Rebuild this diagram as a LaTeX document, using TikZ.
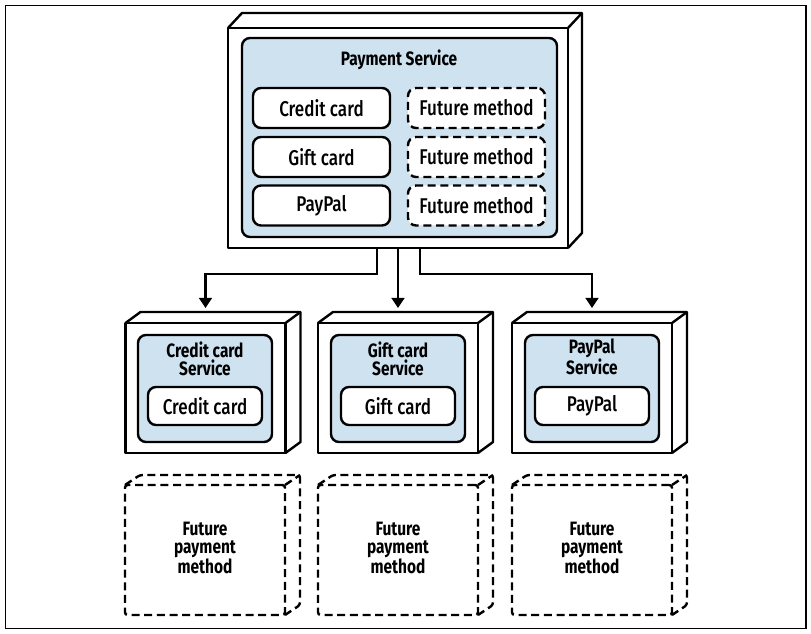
\documentclass[tikz,border=0pt]{standalone}
\usepackage{fontspec}
\setmainfont{Fira Sans}[FakeStretch=0.8]
\newfontfamily\mediumfont{Fira Sans Medium}[FakeStretch=0.8]
\usetikzlibrary{arrows.meta}
\definecolor{panelblue}{RGB}{206,226,240}
\tikzset{
  cube/.style={draw, line width=1.8pt, fill=white, outer sep=0pt, inner sep=0pt, line join=round},
  sides/.style={line width=1.8pt, line join=round},
  dashsides/.style={sides, dash pattern=on 6pt off 3.5pt, rounded corners=2pt},
  futurecube/.style={cube, dash pattern=on 6pt off 3.5pt, rounded corners=2pt, minimum width=120pt, minimum height=97.5pt},
  svccube/.style={cube, minimum width=120pt, minimum height=97.5pt},
  panel/.style={draw, line width=1.8pt, fill=panelblue, rounded corners=6pt, outer sep=0pt},
  svcpanel/.style={panel, minimum width=100.5pt, minimum height=80.25pt},
  methodbox/.style={draw, line width=1.8pt, fill=white, rounded corners=6pt, inner sep=0pt, minimum width=102.75pt, minimum height=30pt, font=\mediumfont\fontsize{16}{18}\selectfont},
  futurebox/.style={methodbox, dash pattern=on 6pt off 3.5pt},
  svcbox/.style={methodbox, minimum width=85.5pt, minimum height=28.5pt},
  title/.style={font=\bfseries\fontsize{14.5}{13.5}\selectfont, align=center, inner sep=0pt},
  link/.style={line width=1.8pt, -{Triangle[width=9.5pt,length=7.5pt]}}
}
% top and right faces of a box drawn around a node
\newcommand{\cubefaces}[4]{%
  \draw[#4] (#1.north west) -- ++(#2,-#3) -- ([shift={(#2,-#3)}]#1.north east)
    -- ([shift={(#2,-#3)}]#1.south east) -- (#1.south east);
  \draw[#4] (#1.north east) -- ++(#2,-#3);
}
\begin{document}
\begin{tikzpicture}[x=0.75pt, y=-0.75pt]
  \useasboundingbox (0,0) rectangle (811,634);
  \draw[line width=1.4pt] (5.5,5.5) rectangle (806,628.5);

  % payment service
  \node[cube, minimum width=255pt, minimum height=165pt] (payment) at (398,138) {};
  \cubefaces{payment}{14}{15}{sides}
  \node[panel, minimum width=236.25pt, minimum height=149.25pt] (paymentpanel) at (399.5,137.5) {};
  \node[title] (paymenttitle) at (399,60) {Payment Service};
  \node[methodbox] (credit) at (321.5,108) {Credit card};
  \node[methodbox] (gift) at (321.5,157) {Gift card};
  \node[methodbox] (paypal) at (321.5,205.5) {PayPal};
  \node[futurebox] (future1) at (476.5,108) {Future method};
  \node[futurebox] (future2) at (476.5,157) {Future method};
  \node[futurebox] (future3) at (476.5,205.5) {Future method};

  % one service per method
  \node[svccube] (creditsvc) at (205.5,388) {};
  \cubefaces{creditsvc}{15}{11}{sides}
  \node[svcpanel] (creditpanel) at (205,388.5) {};
  \node[title] (credittitle) at (205,358.5) {Credit card\\Service};
  \node[svcbox] (creditsvcbox) at (205,406) {Credit card};

  \node[svccube] (giftsvc) at (398,388) {};
  \cubefaces{giftsvc}{15}{11}{sides}
  \node[svcpanel] (giftpanel) at (398,388.5) {};
  \node[title] (gifttitle) at (398,358.5) {Gift card\\Service};
  \node[svcbox] (giftsvcbox) at (398,406) {Gift card};

  \node[svccube] (paypalsvc) at (592,388) {};
  \cubefaces{paypalsvc}{15}{11}{sides}
  \node[svcpanel] (paypalpanel) at (592,388.5) {};
  \node[title] (paypaltitle) at (592,357) {PayPal\\Service};
  \node[svcbox] (paypalsvcbox) at (592,406) {PayPal};

  % future services
  \node[futurecube] (futuresvc1) at (205,550) {};
  \cubefaces{futuresvc1}{15}{10}{dashsides}
  \node[title] (futuretitle1) at (205,548) {Future\\payment\\method};
  \node[futurecube] (futuresvc2) at (398,550) {};
  \cubefaces{futuresvc2}{15}{10}{dashsides}
  \node[title] (futuretitle2) at (398,548) {Future\\payment\\method};
  \node[futurecube] (futuresvc3) at (592,550) {};
  \cubefaces{futuresvc3}{15}{10}{dashsides}
  \node[title] (futuretitle3) at (592,548) {Future\\payment\\method};

  \draw[link] ([xshift=-15.75pt]payment.south) -- ++(0,26) -| ([yshift=11.25pt]creditsvc.north);
  \draw[link] (payment.south) -- ([yshift=11.25pt]giftsvc.north);
  \draw[link] ([xshift=16.5pt]payment.south) -- ++(0,26) -| ([yshift=11.25pt]paypalsvc.north);
\end{tikzpicture}
\end{document}
